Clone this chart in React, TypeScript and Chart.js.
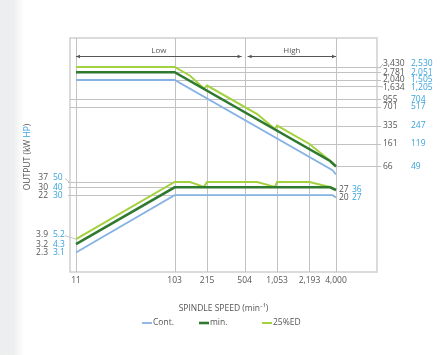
import React, { useEffect, useRef } from "react";
import { Chart, registerables } from "chart.js";

Chart.register(...registerables);

// ---------- data ----------
// Continuous rating
const speedCont = [11, 103, 3700, 4000];
const torqueCont = [2040, 2040, 57, 48];
const powerCont = [2.3, 22, 22, 20];
// min. rating
const speedMin = [11, 103, 3500, 4000];
const torqueMin = [2781, 2781, 82, 66];
const powerMin = [3.2, 30, 30, 27];
// 25%ED rating
const speed25 = [11, 103, 146, 200, 215, 670, 1000, 1053, 2193, 3550, 4000];
const torque25 = [3430, 3430, 2420, 1456, 1634, 527, 291, 335, 161, 81, 66];
const power25 = [3.9, 37, 37, 30.5, 37, 37, 30.5, 37, 37, 30, 27];

// x tick values / labels
const xTicks = [11, 103, 215, 504, 1053, 2193, 4000];
const xTickLabels = ["11", "103", "215", "504", "1,053", "2,193", "4,000"];
const fullHeightTicks = [11, 103, 504, 4000];

// torque reference values (N·m / lbf·ft) and speed where each guide starts (null = full width)
const torqueRefNm = [3430, 2781, 2040, 1634, 955, 701, 335, 161, 66];
const torqueRefLbft = ["2,530", "2,051", "1,505", "1,205", "704", "517", "247", "119", "49"];
const torqueRefNmLabels = ["3,430", "2,781", "2,040", "1,634", "955", "701", "335", "161", "66"];
const torqueRefFrom: (number | null)[] = [103, 103, 103, 215, null, null, 1053, 2193, 4000];

// power reference values (kW / HP)
const powerRefKw = [37, 30, 22];
const powerRefHp = ["50", "40", "30"];
const powerLowKw = [3.9, 3.2, 2.3];
const powerLowKwLabels = ["3.9", "3.2", "2.3"];
const powerLowHp = ["5.2", "4.3", "3.1"];
const powerEndKw = [27, 20];
const powerEndHp = ["36", "27"];

// range labels
const rangeNames = ["Low", "High"];
const rangeBounds = [11, 504, 4000];

const seriesNames = ["Cont.", "min.", "25%ED"];
const COL_CONT = "#86b3e3";
const COL_MIN = "#2f7a30";
const COL_25 = "#a3d13d";
const TXT = "#555555";
const BLUE = "#39a2dc";
const GRID = "#c2c2c2";
const FONT = "'Open Sans', 'Noto Sans', sans-serif";

const pts = (xs: number[], ys: number[]) => xs.map((x, i) => ({ x, y: ys[i] }));

const overlay = {
  id: "overlay",
  beforeDatasetsDraw(chart: any) {
    const { ctx, chartArea: a, scales } = chart;
    const x = scales.x;
    const yT = scales.yT;
    const yP = scales.yP;
    const r = (v: number) => Math.round(v) + 0.5;
    ctx.save();
    // border
    ctx.strokeStyle = "#cfcfcf";
    ctx.lineWidth = 1.5;
    ctx.strokeRect(a.left, a.top, a.right - a.left, a.bottom - a.top);

    ctx.strokeStyle = GRID;
    ctx.lineWidth = 1;
    // vertical lines
    xTicks.forEach((t) => {
      const px = r(x.getPixelForValue(t));
      let top = a.top;
      if (!fullHeightTicks.includes(t)) {
        const idx = speed25.indexOf(t);
        top = yT.getPixelForValue(torque25[idx]);
      }
      ctx.beginPath();
      ctx.moveTo(px, top);
      ctx.lineTo(px, a.bottom);
      ctx.stroke();
    });
    // torque guides
    torqueRefNm.forEach((v, i) => {
      const py = r(yT.getPixelForValue(v));
      const from = torqueRefFrom[i];
      const x0 = from === null ? a.left : x.getPixelForValue(from);
      ctx.beginPath();
      ctx.moveTo(x0, py);
      ctx.lineTo(a.right + 4, py);
      ctx.stroke();
    });
    // power guides
    powerRefKw.forEach((v) => {
      const py = r(yP.getPixelForValue(v));
      ctx.beginPath();
      ctx.moveTo(a.left - 2, py);
      ctx.lineTo(x.getPixelForValue(103), py);
      ctx.stroke();
    });

    // range arrows
    const ay = a.top + 18.5;
    ctx.strokeStyle = "#555";
    ctx.fillStyle = "#555";
    const arrow = (x0: number, x1: number) => {
      ctx.beginPath();
      ctx.moveTo(x0, ay);
      ctx.lineTo(x1, ay);
      ctx.stroke();
      [[x0, 1], [x1, -1]].forEach(([px, d]) => {
        ctx.beginPath();
        ctx.moveTo(px, ay);
        ctx.lineTo(px + 4 * d, ay - 1.8);
        ctx.lineTo(px + 4 * d, ay + 1.8);
        ctx.closePath();
        ctx.fill();
      });
    };
    for (let i = 0; i < rangeNames.length; i++) {
      const x0 = x.getPixelForValue(rangeBounds[i]) + (i === 0 ? 0 : 3);
      const x1 = x.getPixelForValue(rangeBounds[i + 1]) - (i === rangeNames.length - 1 ? 0 : 3);
      arrow(x0, x1);
      ctx.font = `8px ${FONT}`;
      ctx.textAlign = "center";
      ctx.textBaseline = "bottom";
      ctx.fillStyle = TXT;
      ctx.fillText(rangeNames[i], (x0 + x1) / 2, ay - 2);
      ctx.fillStyle = "#555";
    }
    ctx.restore();
  },
  afterDatasetsDraw(chart: any) {
    const { ctx, chartArea: a, scales } = chart;
    const x = scales.x;
    const yT = scales.yT;
    const yP = scales.yP;
    ctx.save();
    ctx.textBaseline = "middle";

    // x tick labels
    ctx.font = `8.5px ${FONT}`;
    ctx.fillStyle = TXT;
    ctx.textAlign = "center";
    xTicks.forEach((t, i) => {
      ctx.fillText(xTickLabels[i], x.getPixelForValue(t), a.bottom + 9);
    });

    // right torque labels
    const tOff = [-3, 0, 0, 1.5, 0, 0, 0, 0, 0];
    ctx.font = `8.5px ${FONT}`;
    torqueRefNm.forEach((v, i) => {
      const py = yT.getPixelForValue(v);
      const ly = py + tOff[i];
      if (tOff[i] !== 0) {
        ctx.strokeStyle = GRID;
        ctx.lineWidth = 1;
        ctx.beginPath();
        ctx.moveTo(a.right + 3, Math.round(py) + 0.5);
        ctx.lineTo(a.right + 6, ly);
        ctx.stroke();
      }
      ctx.textAlign = "left";
      ctx.fillStyle = TXT;
      ctx.fillText(torqueRefNmLabels[i], a.right + 6, ly);
      ctx.fillStyle = BLUE;
      ctx.fillText(torqueRefLbft[i], a.right + 34, ly);
    });

    // left power labels
    const drawLeft = (kw: string, hp: string, py: number, ly: number, toX: number) => {
      ctx.textAlign = "right";
      ctx.fillStyle = TXT;
      ctx.fillText(kw, 48, ly);
      ctx.textAlign = "left";
      ctx.fillStyle = BLUE;
      ctx.fillText(hp, 53, ly);
      if (Math.abs(ly - py) > 1) {
        ctx.strokeStyle = GRID;
        ctx.lineWidth = 1;
        ctx.beginPath();
        ctx.moveTo(65, ly + 1);
        ctx.lineTo(toX, py);
        ctx.stroke();
      }
    };
    powerRefKw.forEach((v, i) => {
      const py = yP.getPixelForValue(v);
      drawLeft(String(v), powerRefHp[i], py, py - (i === 0 ? 4.5 : 0), a.left - 1);
    });
    powerLowKw.forEach((v, i) => {
      const py = yP.getPixelForValue(v);
      drawLeft(powerLowKwLabels[i], powerLowHp[i], py, py - (i === 0 ? 4.5 : 0), x.getPixelForValue(11));
    });

    // right-end power labels
    const xEnd = x.getPixelForValue(4000);
    powerEndKw.forEach((v, i) => {
      const py = yP.getPixelForValue(v);
      ctx.textAlign = "left";
      ctx.fillStyle = TXT;
      ctx.fillText(String(v), xEnd + 3, py);
      ctx.fillStyle = BLUE;
      ctx.fillText(powerEndHp[i], xEnd + 16, py);
    });

    // y title
    ctx.save();
    ctx.translate(28, 157);
    ctx.rotate(-Math.PI / 2);
    ctx.font = `8.5px ${FONT}`;
    const parts: [string, string][] = [["OUTPUT (kW ", TXT], ["HP", BLUE], [")", TXT]];
    const total = parts.reduce((s, p) => s + ctx.measureText(p[0]).width, 0);
    let cx = -total / 2;
    ctx.textAlign = "left";
    parts.forEach(([s, c]) => {
      ctx.fillStyle = c;
      ctx.fillText(s, cx, 0);
      cx += ctx.measureText(s).width;
    });
    ctx.restore();

    // x title
    const mid = (a.left + a.right) / 2;
    ctx.font = `8.5px ${FONT}`;
    ctx.textAlign = "center";
    ctx.fillStyle = TXT;
    ctx.fillText("SPINDLE SPEED (min\u207B\u00B9)", mid, a.bottom + 37);

    // legend
    const colors = [COL_CONT, COL_MIN, COL_25];
    const widths = [1.8, 2.6, 2];
    const starts = [142, 199, 262];
    const ly = a.bottom + 51;
    ctx.font = `8.5px ${FONT}`;
    ctx.textAlign = "left";
    seriesNames.forEach((n, i) => {
      ctx.strokeStyle = colors[i];
      ctx.lineWidth = widths[i];
      ctx.beginPath();
      ctx.moveTo(starts[i], ly);
      ctx.lineTo(starts[i] + 10, ly);
      ctx.stroke();
      ctx.fillStyle = TXT;
      ctx.fillText(n, starts[i] + 11, ly);
    });
    ctx.restore();
  },
};

export default function App() {
  const ref = useRef<HTMLCanvasElement | null>(null);
  useEffect(() => {
    if (!ref.current) return;
    const mk = (label: string, xs: number[], ys: number[], axis: string, color: string, w: number, order: number) => ({
      label,
      data: pts(xs, ys),
      yAxisID: axis,
      borderColor: color,
      backgroundColor: color,
      borderWidth: w,
      pointRadius: 0,
      tension: 0,
      fill: false,
      order,
    });
    const chart = new Chart(ref.current, {
      type: "line",
      data: {
        datasets: [
          mk("Cont. torque", speedCont, torqueCont, "yT", COL_CONT, 1.8, 2),
          mk("min. torque", speedMin, torqueMin, "yT", COL_MIN, 2.6, 0),
          mk("25%ED torque", speed25, torque25, "yT", COL_25, 2, 1),
          mk("Cont. power", speedCont, powerCont, "yP", COL_CONT, 1.8, 2),
          mk("min. power", speedMin, powerMin, "yP", COL_MIN, 2.6, 0),
          mk("25%ED power", speed25, power25, "yP", COL_25, 2, 1),
        ] as any,
      },
      options: {
        responsive: false,
        animation: false,
        layout: { padding: { left: 70, top: 38, right: 63, bottom: 83 } },
        plugins: { legend: { display: false }, tooltip: { enabled: false } },
        scales: {
          x: { type: "logarithmic", min: 9.6, max: 10140, display: false },
          yT: { type: "logarithmic", min: 1, max: 10800, display: false, position: "left" },
          yP: { type: "logarithmic", min: 1.07, max: 10700, display: false, position: "right" },
        },
      } as any,
      plugins: [overlay],
    });
    return () => chart.destroy();
  }, []);
  return (
    <div
      style={{
        position: "fixed",
        left: 0,
        top: 0,
        width: 440,
        height: 355,
        background: "linear-gradient(to right, #eceeef 0px, #eef0f0 14px, #ffffff 24px)",
      }}
    >
      <canvas ref={ref} width={440} height={355} style={{ display: "block" }} />
    </div>
  );
}
